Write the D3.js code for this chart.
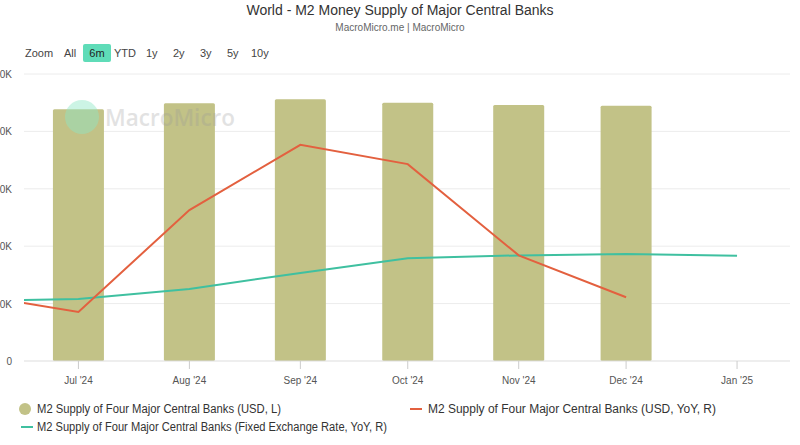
<!DOCTYPE html>
<html><head><meta charset="utf-8">
<script src="https://cdn.jsdelivr.net/npm/d3@7"></script>
<style>
html,body{margin:0;padding:0;background:#fff;}
svg{display:block;font-family:"Liberation Sans",Arial,sans-serif;}
</style></head>
<body><svg id="c" width="800" height="445"></svg>
<script>
// ---- data ----
const months = ["2024-06-01","2024-07-01","2024-08-01","2024-09-01","2024-10-01","2024-11-01","2024-12-01","2025-01-01"];
const barMonths = ["2024-07-01","2024-08-01","2024-09-01","2024-10-01","2024-11-01","2024-12-01"];
const m2USD = [87700, 89800, 91200, 90000, 89200, 88900];               // left axis
const m2USDYoY = [2.33, 1.71, 5.26, 7.53, 6.86, 3.68, 2.22, null];       // right axis
const m2FixedYoY = [2.09, 2.16, 2.51, 3.07, 3.58, 3.68, 3.73, 3.67];     // right axis
const leftTicks = [0, 20000, 40000, 60000, 80000, 100000];
// visible (left-clipped) part of the left-axis tick labels, as shown in the reference
const leftTickLabels = ["0", "0K", "0K", "0K", "0K", "0K"];
const xTickMonths = ["2024-07-01","2024-08-01","2024-09-01","2024-10-01","2024-11-01","2024-12-01","2025-01-01"];
const rangeButtons = ["All","6m","YTD","1y","2y","3y","5y","10y"];
const seriesNames = [
  "M2 Supply of Four Major Central Banks (USD, L)",
  "M2 Supply of Four Major Central Banks (USD, YoY, R)",
  "M2 Supply of Four Major Central Banks (Fixed Exchange Rate, YoY, R)"
];
const colors = {bar:"#c2c287", red:"#e3603f", teal:"#3fc0a0"};

const parse = d3.utcParse("%Y-%m-%d");
const svg = d3.select("#c");

const x = d3.scaleUtc()
  .domain([Date.UTC(2024,5,15,19), Date.UTC(2025,0,15,19)])
  .range([24, 790]);
const yL = d3.scaleLinear().domain([0, 100000]).range([361, 74]);
const yR = d3.scaleLinear().domain([0, 10]).range([361, 74]);

// title
svg.append("text").attr("x",400).attr("y",15).attr("text-anchor","middle")
  .attr("font-size",14).attr("fill","#333").text("World - M2 Money Supply of Major Central Banks");
svg.append("text").attr("x",400).attr("y",31).attr("text-anchor","middle")
  .attr("font-size",10).attr("fill","#666").text("MacroMicro.me | MacroMicro");

// range selector
svg.append("text").attr("x",25).attr("y",57).attr("font-size",11).attr("fill","#444").text("Zoom");
const btnX = [64, 97, 114, 146, 173, 200, 227, 251];
rangeButtons.forEach((b,i)=>{
  if(i===1){
    svg.append("rect").attr("x",83).attr("y",44).attr("width",28).attr("height",18)
      .attr("rx",2).attr("fill","#5fdcb8");
    svg.append("text").attr("x",97).attr("y",57).attr("text-anchor","middle")
      .attr("font-size",11).attr("fill","#222").text(b);
  } else {
    svg.append("text").attr("x",btnX[i]).attr("y",57)
      .attr("font-size",11).attr("fill","#444").text(b);
  }
});

// gridlines + left labels
const g = svg.append("g");
leftTicks.forEach((t,i)=>{
  if(t>0) g.append("line").attr("x1",24).attr("x2",790).attr("y1",yL(t)).attr("y2",yL(t))
    .attr("stroke","#ececec").attr("stroke-width",1);
  g.append("text").attr("x",12).attr("y",yL(t)+4).attr("text-anchor","end")
    .attr("font-size",10).attr("fill","#555").text(leftTickLabels[i]);
});

// bars
const bw = 51;
svg.append("g").selectAll("rect").data(barMonths).join("rect")
  .attr("x",d=>x(parse(d))-bw/2).attr("y",(d,i)=>yL(m2USD[i]))
  .attr("width",bw).attr("height",(d,i)=>yL(0)-yL(m2USD[i]))
  .attr("rx",1.5).attr("fill",colors.bar);

// x axis
const xa = svg.append("g").attr("transform","translate(0,361)");
xa.append("line").attr("x1",24).attr("x2",790).attr("stroke","#ddd");
xTickMonths.forEach(m=>{
  const px = x(parse(m));
  xa.append("line").attr("x1",px).attr("x2",px).attr("y1",0).attr("y2",8).attr("stroke","#ccc");
  xa.append("text").attr("x",px).attr("y",23).attr("text-anchor","middle")
    .attr("font-size",10).attr("fill","#555").text(d3.utcFormat("%b '%y")(parse(m)));
});

// clip
svg.append("clipPath").attr("id","clip").append("rect").attr("x",24).attr("y",60).attr("width",766).attr("height",310);
const lines = svg.append("g").attr("clip-path","url(#clip)");
const lineGen = d3.line().defined(d=>d.v!=null).x(d=>x(parse(d.m))).y(d=>yR(d.v));
lines.append("path").datum(months.map((m,i)=>({m,v:m2FixedYoY[i]})))
  .attr("d",lineGen).attr("fill","none").attr("stroke",colors.teal).attr("stroke-width",2);
lines.append("path").datum(months.map((m,i)=>({m,v:m2USDYoY[i]})))
  .attr("d",lineGen).attr("fill","none").attr("stroke",colors.red).attr("stroke-width",2);

// watermark
const wm = svg.append("g");
wm.append("circle").attr("cx",82).attr("cy",117).attr("r",17).attr("fill","#8fe6c6").attr("opacity",0.45);
wm.append("text").attr("x",105).attr("y",126).attr("font-size",23.5).attr("fill","#999").attr("opacity",0.28)
  .attr("font-family","'Open Sans',sans-serif").attr("font-weight",600).attr("textLength",130)
  .attr("lengthAdjust","spacingAndGlyphs").text("MacroMicro");

// legend
const lg = svg.append("g").attr("font-size",12).attr("fill","#333");
const legW = [244, 288, 350];
lg.append("circle").attr("cx",25).attr("cy",409).attr("r",6).attr("fill",colors.bar);
lg.append("text").attr("x",37).attr("y",413).attr("textLength",legW[0]).attr("lengthAdjust","spacingAndGlyphs").text(seriesNames[0]);
lg.append("line").attr("x1",410).attr("x2",422).attr("y1",409).attr("y2",409).attr("stroke",colors.red).attr("stroke-width",2);
lg.append("text").attr("x",428).attr("y",413).attr("textLength",legW[1]).attr("lengthAdjust","spacingAndGlyphs").text(seriesNames[1]);
lg.append("line").attr("x1",21).attr("x2",33).attr("y1",427).attr("y2",427).attr("stroke",colors.teal).attr("stroke-width",2);
lg.append("text").attr("x",37).attr("y",431).attr("textLength",legW[2]).attr("lengthAdjust","spacingAndGlyphs").text(seriesNames[2]);
</script></body></html>
